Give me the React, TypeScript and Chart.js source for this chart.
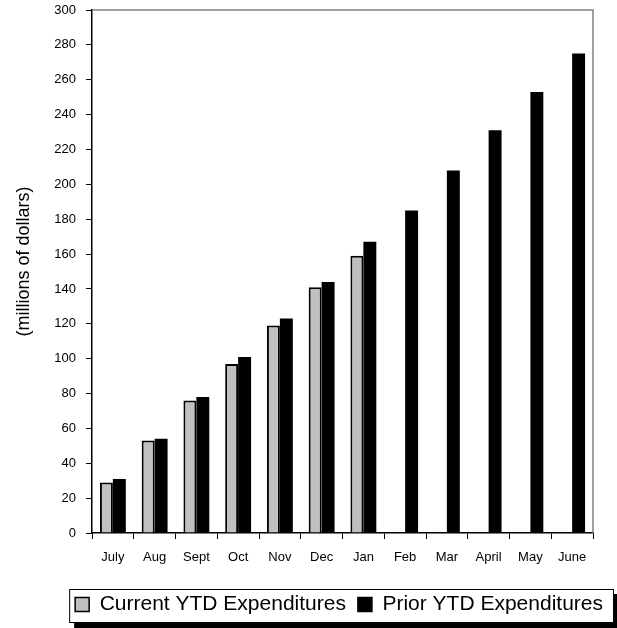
import React, { useEffect, useRef } from "react";
import { Chart, registerables } from "chart.js";

Chart.register(...registerables);

const months = ["July", "Aug", "Sept", "Oct", "Nov", "Dec", "Jan", "Feb", "Mar", "April", "May", "June"];
const currentYTD: (number | null)[] = [29, 53, 76, 97, 119, 141, 159, null, null, null, null, null];
const priorYTD: number[] = [31, 54, 78, 101, 123, 144, 167, 185, 208, 231, 253, 275];
const seriesNames = ["Current YTD Expenditures", "Prior YTD Expenditures"];
const yTitle = "(millions of dollars)";

const FONT = "'Liberation Sans', Arial, sans-serif";

const framePlugin = {
  id: "frameAndLegendBox",
  beforeDraw(chart: any) {
    const legend = chart.legend;
    if (!legend || !legend.legendHitBoxes || !legend.legendHitBoxes.length) return;
    const hb = legend.legendHitBoxes;
    const first = hb[0];
    const last = hb[hb.length - 1];
    const left = first.left - 6;
    const right = last.left + last.width + 11;
    const top = first.top - 5;
    const bottom = first.top + first.height + 8;
    const ctx = chart.ctx;
    ctx.save();
    ctx.fillStyle = "#000";
    ctx.fillRect(left + 5, top + 5, right - left, bottom - top);
    ctx.fillStyle = "#fff";
    ctx.fillRect(left, top, right - left, bottom - top);
    ctx.strokeStyle = "#000";
    ctx.lineWidth = 1;
    ctx.strokeRect(left + 0.5, top + 0.5, right - left - 1, bottom - top - 1);
    ctx.restore();
  },
  afterDraw(chart: any) {
    const { left, right, top, bottom } = chart.chartArea;
    const ctx = chart.ctx;
    ctx.save();
    ctx.strokeStyle = "#808080";
    ctx.lineWidth = 1.5;
    ctx.beginPath();
    ctx.moveTo(left, top);
    ctx.lineTo(right, top);
    ctx.lineTo(right, bottom);
    ctx.stroke();
    // y-axis title
    ctx.translate(24, (top + bottom) / 2 - 10);
    ctx.rotate(-Math.PI / 2);
    ctx.fillStyle = "#000";
    ctx.font = `18px ${FONT}`;
    ctx.textAlign = "center";
    ctx.textBaseline = "middle";
    ctx.fillText(yTitle, 0, 0);
    ctx.restore();
  },
};

export default function App() {
  const ref = useRef<HTMLCanvasElement>(null);
  useEffect(() => {
    if (!ref.current) return;
    const chart = new Chart(ref.current, {
      type: "bar",
      data: {
        labels: months,
        datasets: [
          {
            label: seriesNames[0],
            data: currentYTD,
            backgroundColor: "#C0C0C0",
            borderColor: "#000",
            borderWidth: 2,
            categoryPercentage: 0.62,
            barPercentage: 1,
          },
          {
            label: seriesNames[1],
            data: priorYTD,
            backgroundColor: "#000",
            borderColor: "#000",
            borderWidth: 0,
            categoryPercentage: 0.62,
            barPercentage: 1,
          },
        ],
      },
      options: {
        responsive: false,
        animation: false,
        layout: { padding: { left: 0, right: 2, top: 10, bottom: 3 } },
        plugins: {
          tooltip: { enabled: false },
          legend: {
            position: "bottom",
            align: "end",
            labels: {
              color: "#000",
              font: { family: FONT, size: 21 },
              boxWidth: 14,
              boxHeight: 14,
              padding: 12,
              generateLabels(chart: any) {
                const items = Chart.defaults.plugins.legend.labels.generateLabels(chart);
                return items.map((it: any) => ({ ...it, lineWidth: 1.5, strokeStyle: "#000" }));
              },
            },
          },
        },
        scales: {
          x: {
            grid: {
              display: true,
              drawOnChartArea: false,
              drawTicks: true,
              tickLength: 6,
              color: "#000",
              offset: true,
            },
            border: { display: true, color: "#000", width: 1.5 },
            ticks: { color: "#000", font: { family: FONT, size: 13 }, padding: 11, maxRotation: 0 },
            afterFit(s: any) {
              s.height = 49;
              s.paddingLeft = 0;
              s.paddingRight = 0;
            },
          },
          y: {
            min: 0,
            max: 300,
            ticks: { stepSize: 20, color: "#000", font: { family: FONT, size: 13 }, padding: 10 },
            grid: { display: true, drawOnChartArea: false, drawTicks: true, tickLength: 6, color: "#000" },
            border: { display: true, color: "#000", width: 1.5 },
            title: { display: false },
            afterFit(s: any) {
              s.width = 92;
              s.paddingTop = 0;
              s.paddingBottom = 0;
            },
          },
          yR: {
            position: "right",
            display: true,
            grid: { display: false },
            border: { display: false },
            ticks: { display: false },
            afterFit(s: any) {
              s.width = 22;
              s.paddingTop = 0;
              s.paddingBottom = 0;
            },
          },
        },
      },
      plugins: [framePlugin],
    } as any);
    return () => chart.destroy();
  }, []);
  return (
    <div style={{ position: "absolute", left: 0, top: 0, width: 617, height: 628, background: "#fff" }}>
      <canvas ref={ref} width={617} height={628} style={{ display: "block" }} />
    </div>
  );
}
